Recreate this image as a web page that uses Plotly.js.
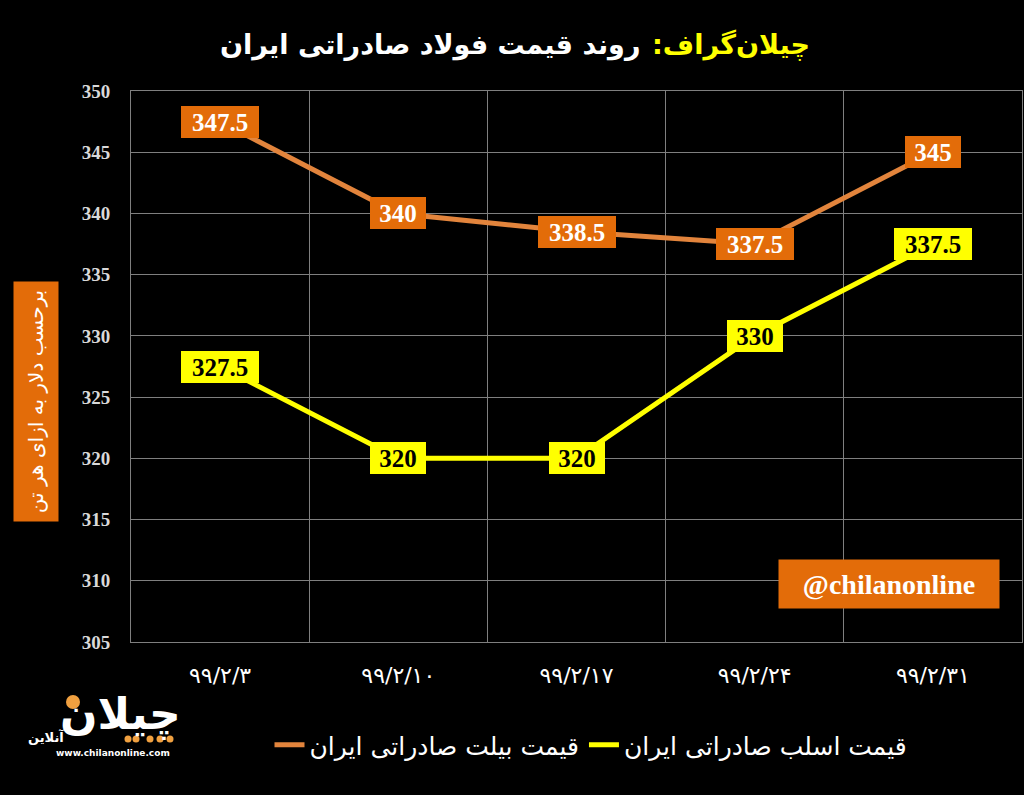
<!DOCTYPE html>
<html>
<head>
<meta charset="utf-8">
<script src="https://cdn.plot.ly/plotly-3.0.1.min.js"></script>
<style>
  html, body { margin: 0; padding: 0; background: #000; }
  #chart { width: 1024px; height: 795px; }
</style>
</head>
<body>
<div id="chart"></div>
<script>
// ---- data ----
const categories = ['۹۹/۲/۳', '۹۹/۲/۱۰', '۹۹/۲/۱۷', '۹۹/۲/۲۴', '۹۹/۲/۳۱'];
const billetValues = [347.5, 340, 338.5, 337.5, 345];
const slabValues = [327.5, 320, 320, 330, 337.5];
const billetName = 'قیمت بیلت صادراتی ایران';
const slabName = 'قیمت اسلب صادراتی ایران';
const titleYellow = 'چیلان‌گراف:\u200F';
const titleWhite = 'روند قیمت فولاد صادراتی ایران';
const yTitle = 'برحسب دلار به ازای هر تن';
const watermark = '@chilanonline';

// ---- layout helpers ----
const W = 1024, H = 795;
const M = { l: 131, r: 2, t: 91, b: 153 };
const PW = W - M.l - M.r, PH = H - M.t - M.b;
const px = x => (x - M.l) / PW;
const py = y => (H - M.b - y) / PH;

const orange = '#E36C09';
const lineOrange = '#E2843C';
const yellow = '#FFFF00';
const numFont = 'Liberation Serif, Times New Roman, serif';
const faFont = 'DejaVu Sans, Noto Sans, sans-serif';

const traces = [
  { x: categories, y: billetValues, name: billetName, type: 'scatter', mode: 'lines',
    line: { color: lineOrange, width: 5 } },
  { x: categories, y: slabValues, name: slabName, type: 'scatter', mode: 'lines',
    line: { color: yellow, width: 5 } }
];

const labelWidth = s => 11 * s.length + 17;
const annotations = [];
billetValues.forEach((v, i) => annotations.push({
  x: categories[i], y: v, xref: 'x', yref: 'y', text: String(v), showarrow: false,
  bgcolor: orange, borderpad: 3, borderwidth: 0, width: labelWidth(String(v)), height: 26,
  font: { family: numFont, size: 25, color: '#ffffff', weight: 'bold' }
}));
slabValues.forEach((v, i) => annotations.push({
  x: categories[i], y: v, xref: 'x', yref: 'y', text: String(v), showarrow: false,
  bgcolor: yellow, borderpad: 3, borderwidth: 0, width: labelWidth(String(v)), height: 26,
  font: { family: numFont, size: 25, color: '#000000', weight: 'bold' }
}));

// title (two colour parts)
annotations.push({
  xref: 'paper', yref: 'paper', x: px(650), y: py(45), xanchor: 'left', yanchor: 'middle',
  text: titleYellow, showarrow: false,
  font: { family: faFont, size: 27, color: yellow, weight: 'bold' }
});
annotations.push({
  xref: 'paper', yref: 'paper', x: px(642), y: py(45), xanchor: 'right', yanchor: 'middle',
  text: titleWhite, showarrow: false,
  font: { family: faFont, size: 27, color: '#ffffff', weight: 'bold' }
});

// y axis title box
annotations.push({
  xref: 'paper', yref: 'paper', x: px(36), y: py(402), xanchor: 'center', yanchor: 'middle',
  text: yTitle, showarrow: false, textangle: -90,
  width: 235, height: 40, bgcolor: orange, borderpad: 2,
  font: { family: faFont, size: 20, color: '#ffffff' }
});

// watermark
annotations.push({
  xref: 'paper', yref: 'paper', x: px(889), y: py(584), xanchor: 'center', yanchor: 'middle',
  text: watermark, showarrow: false, width: 214, height: 42, bgcolor: orange, borderpad: 3,
  font: { family: numFont, size: 28, color: '#ffffff', weight: 'bold' }
});

// logo
annotations.push({
  xref: 'paper', yref: 'paper', x: px(120), y: py(714), xanchor: 'center', yanchor: 'middle',
  text: 'چیلان', showarrow: false,
  font: { family: faFont, size: 44, color: '#ffffff', weight: 'bold' }
});
annotations.push({
  xref: 'paper', yref: 'paper', x: px(46), y: py(737), xanchor: 'center', yanchor: 'middle',
  text: 'آنلاین', showarrow: false,
  font: { family: faFont, size: 13, color: '#ffffff', weight: 'bold' }
});
annotations.push({
  xref: 'paper', yref: 'paper', x: px(113), y: py(753), xanchor: 'center', yanchor: 'middle',
  text: 'www.chilanonline.com', showarrow: false,
  font: { family: faFont, size: 9, color: '#ffffff', weight: 'bold' }
});

const shapes = [];
const dot = (cx, cy, r) => shapes.push({
  type: 'circle', xref: 'paper', yref: 'paper',
  x0: px(cx - r), x1: px(cx + r), y0: py(cy + r), y1: py(cy - r),
  fillcolor: '#F0A040', line: { width: 0 }
});
dot(73, 702, 7);
[128, 136, 150, 160, 170].forEach(cx => dot(cx, 739, 3.5));

const layout = {
  width: W, height: H,
  margin: M,
  paper_bgcolor: '#000000', plot_bgcolor: '#000000',
  showlegend: true,
  legend: {
    orientation: 'h', x: px(591), xanchor: 'center', y: py(745), yanchor: 'middle',
    font: { family: faFont, size: 25, color: '#ffffff' }, bgcolor: 'rgba(0,0,0,0)'
  },
  xaxis: {
    type: 'category', range: [-0.5, 4.5], tickson: 'boundaries', showgrid: true,
    gridcolor: '#7f7f7f', gridwidth: 1,
    showline: true, linecolor: '#7f7f7f', linewidth: 1, mirror: true,
    ticks: '', ticklabelstandoff: 14, zeroline: false,
    tickfont: { family: faFont, size: 22, color: '#ffffff' }
  },
  yaxis: {
    range: [305, 350], dtick: 5, tick0: 305, showgrid: true, gridcolor: '#7f7f7f', gridwidth: 1,
    showline: true, linecolor: '#7f7f7f', linewidth: 1, mirror: true,
    ticks: '', ticklabelstandoff: 16, zeroline: false,
    tickfont: { family: numFont, size: 19, color: '#d9d9d9', weight: 'bold' }
  },
  annotations: annotations,
  shapes: shapes
};

Plotly.newPlot('chart', traces, layout, { displayModeBar: false, staticPlot: true });
</script>
</body>
</html>
